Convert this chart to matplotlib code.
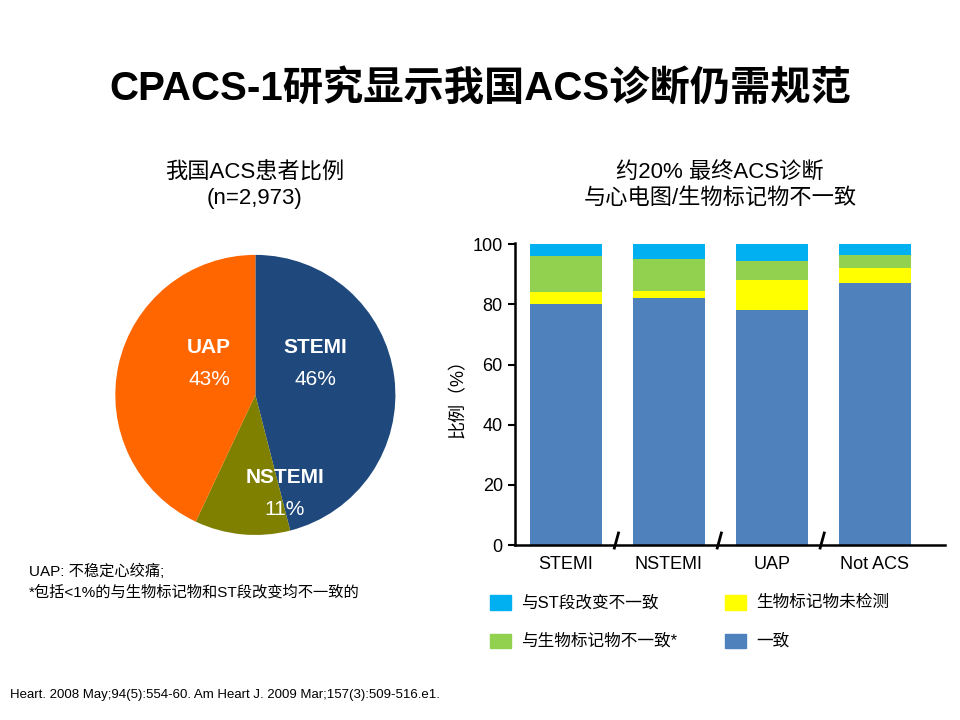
import matplotlib
matplotlib.use("Agg")
import matplotlib.pyplot as plt
import numpy as np

plt.rcParams['font.family'] = ['Liberation Sans', 'Noto Sans CJK SC']

pie_labels = ["STEMI", "NSTEMI", "UAP"]
pie_values = [46, 11, 43]
pie_colors = ["#1F497D", "#7F7F00", "#FF6600"]

cats = ["STEMI", "NSTEMI", "UAP", "Not ACS"]
consistent = [80, 82, 78, 87]
not_tested = [4, 2.5, 10, 5]
bio_incons = [12, 10.5, 6.5, 4.5]
st_incons = [4, 5, 5.5, 3.5]

fig = plt.figure(figsize=(9.6, 7.2), dpi=100)
fig.text(0.5, 0.878, "CPACS-1研究显示我国ACS诊断仍需规范", ha="center", va="center",
         fontsize=29, fontweight="bold")
fig.text(0.265, 0.742, "我国ACS患者比例\n(n=2,973)", ha="center", va="center", fontsize=16, linespacing=1.3)
fig.text(0.75, 0.742, "约20% 最终ACS诊断\n与心电图/生物标记物不一致", ha="center", va="center", fontsize=16, linespacing=1.3)

# pie
axp = fig.add_axes([0.12, 0.257, 0.292, 0.389])
axp.pie(pie_values, colors=pie_colors, startangle=90, counterclock=False)
axp.set_xlim(-1, 1)
axp.set_ylim(-1, 1)
axp.set_aspect("equal")
pos = {"STEMI": (0.43, 0.34), "NSTEMI": (0.21, -0.59), "UAP": (-0.33, 0.34)}
for l, v in zip(pie_labels, pie_values):
    x, y = pos[l]
    axp.text(x, y, l, color="white", fontsize=15, fontweight="bold", ha="center", va="center")
    axp.text(x, y - 0.23, f"{v}%", color="white", fontsize=15, ha="center", va="center")

fig.text(0.03, 0.192, "UAP: 不稳定心绞痛;\n*包括<1%的与生物标记物和ST段改变均不一致的", fontsize=11, va="center", linespacing=1.5)
fig.text(0.01, 0.03, "Heart. 2008 May;94(5):554-60. Am Heart J. 2009 Mar;157(3):509-516.e1.",
         fontsize=9.5)

# bars
axb = fig.add_axes([0.536, 0.243, 0.448, 0.42])
x = np.arange(len(cats))
w = 0.7
c1, c2, c3, c4 = "#4F81BD", "#FFFF00", "#92D050", "#00B0F0"
axb.bar(x, consistent, w, color=c1)
b = np.array(consistent, float)
axb.bar(x, not_tested, w, bottom=b, color=c2); b += not_tested
axb.bar(x, bio_incons, w, bottom=b, color=c3); b += bio_incons
axb.bar(x, st_incons, w, bottom=b, color=c4)
axb.set_xlim(-0.5, 3.68)
axb.set_ylim(0, 100.5)
axb.set_yticks([0, 20, 40, 60, 80, 100])
axb.set_xticks(x)
axb.set_xticklabels(cats, fontsize=13)
axb.tick_params(axis="y", labelsize=13, width=1.5, length=5)
axb.tick_params(axis="x", length=0, pad=8)
axb.spines["top"].set_visible(False)
axb.spines["right"].set_visible(False)
axb.spines["left"].set_linewidth(1.8)
axb.spines["bottom"].set_linewidth(1.8)
axb.set_ylabel("比例（%）", fontsize=13)
for xb in [0.5, 1.5, 2.5]:
    axb.plot([xb - 0.03, xb + 0.01], [-1, 4], color="black", lw=2, clip_on=False)

# legend
items = [(c4, "与ST段改变不一致", 0.51, 0.163), (c2, "生物标记物未检测", 0.755, 0.163),
         (c3, "与生物标记物不一致*", 0.51, 0.11), (c1, "一致", 0.755, 0.11)]
for c, t, lx, ly in items:
    fig.patches.append(plt.Rectangle((lx, ly - 0.01), 0.022, 0.02, color=c, transform=fig.transFigure))
    fig.text(lx + 0.033, ly, t, fontsize=12, va="center")

fig.savefig("out.png", dpi=100, facecolor="white")
